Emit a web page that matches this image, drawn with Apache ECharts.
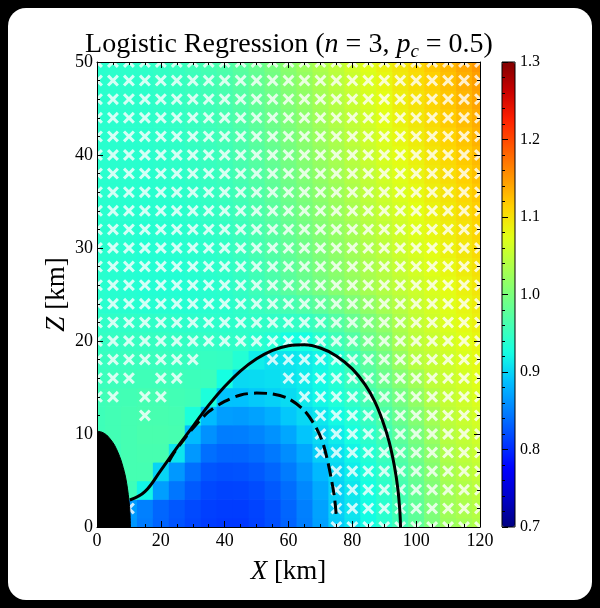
<!DOCTYPE html>
<html>
<head>
<meta charset="utf-8">
<script src="https://cdn.jsdelivr.net/npm/echarts@6/dist/echarts.min.js"></script>
<style>
  html, body { margin: 0; padding: 0; background: #000; }
  #chart { width: 600px; height: 608px; }
</style>
</head>
<body>
<div id="chart"></div>
<script>
// grid nodes of the field (km)
const X_KM = [0, 5, 10, 15, 20, 25, 30, 35, 40, 45, 50, 55, 60, 65, 70, 75, 80, 85, 90, 95, 100, 105, 110, 115, 120];
const Z_KM = [0, 2, 4, 6, 8, 10, 12, 14, 16, 18, 20, 22, 24, 26, 28, 30, 32, 34, 36, 38, 40, 42, 44, 46, 48, 50];

// field values, one row per Z (bottom row first)
const FIELD = [
  [0.864, 0.864, 0.864, 0.848, 0.834, 0.824, 0.816, 0.81, 0.808, 0.808, 0.813, 0.821, 0.833, 0.849, 0.869, 0.895, 0.908, 0.923, 0.94, 0.958, 0.979, 1.001, 1.022, 1.029, 1.037],
  [0.864, 0.864, 0.866, 0.85, 0.835, 0.826, 0.818, 0.812, 0.81, 0.81, 0.814, 0.822, 0.834, 0.85, 0.87, 0.897, 0.909, 0.924, 0.94, 0.959, 0.979, 1.002, 1.026, 1.034, 1.041],
  [0.864, 0.864, 0.955, 0.92, 0.868, 0.844, 0.828, 0.817, 0.814, 0.815, 0.819, 0.827, 0.839, 0.855, 0.875, 0.898, 0.911, 0.926, 0.943, 0.961, 0.982, 1.004, 1.028, 1.038, 1.046],
  [0.864, 0.864, 0.96, 0.96, 0.90, 0.864, 0.84, 0.825, 0.822, 0.823, 0.827, 0.835, 0.847, 0.863, 0.884, 0.902, 0.915, 0.93, 0.946, 0.965, 0.985, 1.008, 1.032, 1.043, 1.051],
  [0.864, 0.955, 0.96, 0.962, 0.962, 0.91, 0.864, 0.84, 0.834, 0.834, 0.838, 0.846, 0.858, 0.874, 0.896, 0.907, 0.92, 0.935, 0.952, 0.97, 0.991, 1.013, 1.037, 1.047, 1.055],
  [0.955, 0.958, 0.96, 0.963, 0.963, 0.962, 0.885, 0.86, 0.848, 0.849, 0.853, 0.861, 0.873, 0.891, 0.903, 0.914, 0.927, 0.942, 0.959, 0.977, 0.998, 1.02, 1.043, 1.051, 1.06],
  [0.955, 0.958, 0.96, 0.962, 0.962, 0.96, 0.93, 0.885, 0.868, 0.866, 0.87, 0.878, 0.893, 0.902, 0.911, 0.922, 0.935, 0.95, 0.967, 0.986, 1.006, 1.028, 1.047, 1.056, 1.064],
  [0.955, 0.957, 0.958, 0.96, 0.96, 0.958, 0.956, 0.93, 0.89, 0.889, 0.894, 0.898, 0.904, 0.912, 0.921, 0.932, 0.945, 0.96, 0.977, 0.995, 1.016, 1.038, 1.052, 1.06, 1.069],
  [0.952, 0.954, 0.955, 0.956, 0.956, 0.955, 0.954, 0.953, 0.925, 0.903, 0.904, 0.906, 0.909, 0.914, 0.922, 0.935, 0.952, 0.97, 0.988, 1.007, 1.027, 1.048, 1.056, 1.064, 1.073],
  [0.95, 0.951, 0.952, 0.952, 0.952, 0.951, 0.95, 0.949, 0.948, 0.935, 0.915, 0.908, 0.91, 0.913, 0.92, 0.935, 0.955, 0.975, 0.995, 1.02, 1.043, 1.052, 1.06, 1.069, 1.078],
  [0.948, 0.948, 0.949, 0.949, 0.949, 0.948, 0.947, 0.946, 0.945, 0.944, 0.94, 0.935, 0.925, 0.925, 0.94, 0.955, 0.97, 0.99, 1.005, 1.03, 1.047, 1.056, 1.064, 1.073, 1.082],
  [0.945, 0.945, 0.945, 0.945, 0.944, 0.943, 0.942, 0.942, 0.942, 0.943, 0.945, 0.945, 0.945, 0.948, 0.955, 0.97, 0.985, 1.0, 1.015, 1.035, 1.051, 1.06, 1.069, 1.078, 1.087],
  [0.94, 0.939, 0.938, 0.937, 0.937, 0.937, 0.937, 0.938, 0.94, 0.944, 0.95, 0.955, 0.96, 0.968, 0.978, 0.99, 1.003, 1.016, 1.03, 1.043, 1.055, 1.064, 1.073, 1.082, 1.091],
  [0.94, 0.938, 0.937, 0.935, 0.935, 0.935, 0.937, 0.939, 0.942, 0.947, 0.955, 0.964, 0.974, 0.985, 0.996, 1.007, 1.019, 1.03, 1.04, 1.05, 1.059, 1.068, 1.077, 1.086, 1.096],
  [0.94, 0.938, 0.937, 0.936, 0.936, 0.936, 0.938, 0.941, 0.944, 0.949, 0.957, 0.966, 0.977, 0.988, 1.0, 1.011, 1.022, 1.033, 1.043, 1.054, 1.063, 1.072, 1.081, 1.091, 1.1],
  [0.94, 0.939, 0.938, 0.936, 0.937, 0.938, 0.94, 0.942, 0.946, 0.952, 0.96, 0.969, 0.98, 0.991, 1.003, 1.014, 1.026, 1.037, 1.047, 1.058, 1.067, 1.076, 1.086, 1.095, 1.105],
  [0.94, 0.939, 0.938, 0.937, 0.938, 0.939, 0.941, 0.944, 0.948, 0.954, 0.962, 0.972, 0.983, 0.995, 1.006, 1.017, 1.029, 1.041, 1.051, 1.061, 1.071, 1.081, 1.09, 1.099, 1.109],
  [0.94, 0.939, 0.939, 0.938, 0.939, 0.94, 0.943, 0.946, 0.95, 0.956, 0.965, 0.975, 0.986, 0.998, 1.009, 1.021, 1.033, 1.044, 1.055, 1.065, 1.075, 1.085, 1.094, 1.104, 1.114],
  [0.94, 0.94, 0.939, 0.939, 0.94, 0.942, 0.944, 0.948, 0.952, 0.958, 0.967, 0.978, 0.989, 1.001, 1.012, 1.024, 1.036, 1.048, 1.058, 1.069, 1.079, 1.089, 1.098, 1.108, 1.118],
  [0.94, 0.94, 0.94, 0.939, 0.941, 0.943, 0.946, 0.949, 0.954, 0.961, 0.97, 0.98, 0.992, 1.004, 1.016, 1.028, 1.04, 1.051, 1.062, 1.073, 1.083, 1.093, 1.103, 1.113, 1.123],
  [0.94, 0.94, 0.94, 0.94, 0.942, 0.944, 0.947, 0.951, 0.956, 0.963, 0.972, 0.983, 0.995, 1.007, 1.019, 1.031, 1.043, 1.055, 1.066, 1.077, 1.087, 1.097, 1.107, 1.117, 1.127],
  [0.94, 0.94, 0.94, 0.941, 0.943, 0.945, 0.949, 0.953, 0.958, 0.965, 0.975, 0.986, 0.998, 1.01, 1.022, 1.034, 1.047, 1.059, 1.07, 1.081, 1.091, 1.101, 1.111, 1.121, 1.132],
  [0.94, 0.94, 0.941, 0.942, 0.944, 0.946, 0.95, 0.955, 0.96, 0.968, 0.977, 0.989, 1.001, 1.013, 1.026, 1.038, 1.05, 1.062, 1.074, 1.085, 1.095, 1.105, 1.116, 1.126, 1.136],
  [0.94, 0.941, 0.942, 0.942, 0.945, 0.948, 0.952, 0.956, 0.962, 0.97, 0.98, 0.991, 1.004, 1.016, 1.029, 1.041, 1.054, 1.066, 1.077, 1.089, 1.099, 1.109, 1.12, 1.13, 1.141],
  [0.94, 0.941, 0.942, 0.943, 0.946, 0.949, 0.953, 0.958, 0.964, 0.972, 0.982, 0.994, 1.007, 1.019, 1.032, 1.045, 1.057, 1.069, 1.081, 1.093, 1.103, 1.113, 1.124, 1.135, 1.145],
  [0.94, 0.941, 0.943, 0.944, 0.947, 0.95, 0.955, 0.96, 0.966, 0.974, 0.985, 0.997, 1.01, 1.023, 1.035, 1.048, 1.061, 1.073, 1.085, 1.096, 1.107, 1.118, 1.128, 1.139, 1.15]
];

// white crosses on the same nodes ('x' = marked), bottom row first
const MARKS = [
  '...............xxxxxxxxxx',
  '..x............xxxxxxxxxx',
  '...............xxxxxxxxxx',
  '...............xxxxxxxxxx',
  '..............xxxxxxxxxxx',
  '..............xxxxxxxxxxx',
  '...x..........xxxxxxxxxxx',
  'xx.xx........xxxxxxxxxxxx',
  'xxx.xx......xxxxxxxxxxxxx',
  'xxxxxxx....xxxxxxxxxxxxxx',
  'xxxxxxxxxxxxxxxxxxxxxxxxx',
  'xxxxxxxxxxxxxxxxxxxxxxxxx',
  'xxxxxxxxxxxxxxxxxxxxxxxxx',
  'xxxxxxxxxxxxxxxxxxxxxxxxx',
  'xxxxxxxxxxxxxxxxxxxxxxxxx',
  'xxxxxxxxxxxxxxxxxxxxxxxxx',
  'xxxxxxxxxxxxxxxxxxxxxxxxx',
  'xxxxxxxxxxxxxxxxxxxxxxxxx',
  'xxxxxxxxxxxxxxxxxxxxxxxxx',
  'xxxxxxxxxxxxxxxxxxxxxxxxx',
  'xxxxxxxxxxxxxxxxxxxxxxxxx',
  'xxxxxxxxxxxxxxxxxxxxxxxxx',
  'xxxxxxxxxxxxxxxxxxxxxxxxx',
  'xxxxxxxxxxxxxxxxxxxxxxxxx',
  'xxxxxxxxxxxxxxxxxxxxxxxxx',
  'xxxxxxxxxxxxxxxxxxxxxxxxx'
];

// black bump at the origin
const BUMP_X = [0, 1.5, 3, 4.4, 5.5, 6.6, 7.5, 8.2, 8.8, 9.3, 9.8, 10.2, 10.4, 10.5];
const BUMP_Z = [10.3, 10.2, 9.9, 9.35, 8.8, 8, 7.2, 6.4, 5.6, 4.7, 3.5, 2.2, 1, 0];

// solid boundary
const SOLID_X = [10.3, 15, 20, 25, 30, 35, 40, 45, 50, 55, 60, 65, 70, 75, 80, 84, 87, 89.5, 91.5, 93.2, 94.3, 94.9, 95.1];
const SOLID_Z = [2.9, 3.8, 6.1, 8.5, 10.8, 13.1, 15.1, 16.8, 18.1, 19.0, 19.5, 19.6, 19.25, 18.4, 17.0, 15.3, 13.5, 11.4, 9.2, 6.5, 4.0, 1.6, 0];

// dashed boundary
const DASH_X = [22.5, 24, 27, 30, 35, 40, 45, 50, 55, 60, 65, 68.8, 70.8, 72.2, 73.4, 74.4, 75];
const DASH_Z = [7.0, 7.9, 9.3, 10.6, 12.4, 13.5, 14.2, 14.4, 14.3, 13.8, 12.5, 10.6, 9.0, 7.2, 5.2, 3.2, 1.1];

const CB_MIN = 0.7;
const CB_MAX = 1.3;
const JET = ['#000080', '#0000c8', '#0000ff', '#0040ff', '#0080ff', '#00bfff', '#15ffe2', '#48ffaf',
             '#7bff7b', '#afff48', '#e2ff15', '#ffd200', '#ff9700', '#ff5c00', '#ff2100', '#c80000', '#800000'];

const SERIF = '"Liberation Serif", "DejaVu Serif", serif';

const cells = [];
FIELD.forEach((row, j) => row.forEach((v, i) => cells.push([X_KM[i], Z_KM[j], v])));

const marks = [];
MARKS.forEach((row, j) => row.split('').forEach((c, i) => {
    if (c === 'x') marks.push([X_KM[i], Z_KM[j]]);
}));

const pairs = (xs, zs) => xs.map((x, i) => [x, zs[i]]);

const halfW = (X_KM[1] - X_KM[0]) / 2;
const halfH = (Z_KM[1] - Z_KM[0]) / 2;

// filled "x" glyph
const crossPath = 'path://M1.8,0L5,3.2L8.2,0L10,1.8L6.8,5L10,8.2L8.2,10L5,6.8L1.8,10L0,8.2L3.2,5L0,1.8Z';

const chart = echarts.init(document.getElementById('chart'), null, { renderer: 'canvas' });

const mainAxisCommon = {
    type: 'value',
    z: 10,
    splitLine: { show: false },
    axisLine: { show: true, onZero: false, lineStyle: { color: '#000', width: 1 } },
    axisTick: { show: true, inside: true, length: 6, lineStyle: { color: '#000', width: 1 } },
    minorTick: { show: true, length: 3, lineStyle: { color: '#000', width: 1 } },
    minorSplitLine: { show: false }
};

const option = {
    backgroundColor: 'transparent',
    animation: false,
    graphic: [
        {
            type: 'rect', z: -10, silent: true,
            shape: { x: 8, y: 8, width: 584, height: 592, r: 18 },
            style: { fill: '#fff' }
        },
        {
            type: 'text', x: 289, y: 45, z: 20, silent: true,
            style: {
                text: '{t|Logistic Regression (}{i|n}{t| = 3, }{i|p}{s|c}{t| = 0.5)}',
                align: 'center', verticalAlign: 'middle',
                rich: {
                    t: { fontFamily: SERIF, fontSize: 28, fill: '#000', lineHeight: 32, verticalAlign: 'middle' },
                    i: { fontFamily: SERIF, fontSize: 28, fontStyle: 'italic', fill: '#000', lineHeight: 32, verticalAlign: 'middle' },
                    s: { fontFamily: SERIF, fontSize: 19, fontStyle: 'italic', fill: '#000', lineHeight: 18, verticalAlign: 'bottom' }
                }
            }
        }
    ],
    grid: [
        { left: 97, top: 62, width: 383, height: 465, show: false },
        { left: 502, top: 62, width: 13, height: 465, show: true, z: 10,
          backgroundColor: 'transparent', borderColor: '#000', borderWidth: 1 }
    ],
    visualMap: {
        type: 'continuous',
        seriesIndex: 0,
        dimension: 2,
        min: CB_MIN,
        max: CB_MAX,
        calculable: false,
        hoverLink: false,
        left: 502,
        top: 62,
        padding: 0,
        itemWidth: 13,
        itemHeight: 465,
        inRange: { color: JET }
    },
    xAxis: [
        Object.assign({}, mainAxisCommon, {
            gridIndex: 0, position: 'bottom', min: 0, max: 120, interval: 20,
            minorTick: Object.assign({}, mainAxisCommon.minorTick, { splitNumber: 4 }),
            axisLabel: { color: '#000', fontFamily: SERIF, fontSize: 18, margin: 5 },
            name: '{i|X} [km]',
            nameLocation: 'middle',
            nameGap: 31,
            nameTextStyle: {
                fontFamily: SERIF, fontSize: 27, color: '#000',
                rich: { i: { fontFamily: SERIF, fontSize: 27, fontStyle: 'italic', color: '#000' } }
            }
        }),
        Object.assign({}, mainAxisCommon, {
            gridIndex: 0, position: 'top', min: 0, max: 120, interval: 20,
            minorTick: Object.assign({}, mainAxisCommon.minorTick, { splitNumber: 4 }),
            axisLabel: { show: false }
        }),
        { gridIndex: 1, type: 'value', min: 0, max: 1, show: false }
    ],
    yAxis: [
        Object.assign({}, mainAxisCommon, {
            gridIndex: 0, position: 'left', min: 0, max: 50, interval: 10,
            minorTick: Object.assign({}, mainAxisCommon.minorTick, { splitNumber: 5 }),
            axisLabel: { color: '#000', fontFamily: SERIF, fontSize: 18, margin: 4 },
            name: '{i|Z} [km]',
            nameLocation: 'middle',
            nameRotate: 90,
            nameGap: 27,
            nameMoveOverlap: false,
            nameTextStyle: {
                fontFamily: SERIF, fontSize: 27, color: '#000',
                rich: { i: { fontFamily: SERIF, fontSize: 27, fontStyle: 'italic', color: '#000' } }
            }
        }),
        Object.assign({}, mainAxisCommon, {
            gridIndex: 0, position: 'right', min: 0, max: 50, interval: 10,
            minorTick: Object.assign({}, mainAxisCommon.minorTick, { splitNumber: 5 }),
            axisLabel: { show: false }
        }),
        {
            gridIndex: 1, type: 'value', position: 'right', min: CB_MIN, max: CB_MAX, interval: 0.1, z: 10,
            splitLine: { show: false },
            axisLine: { show: false },
            axisTick: { show: true, inside: false, length: 6, lineStyle: { color: '#000', width: 1 } },
            minorTick: { show: true, splitNumber: 5, length: 3, lineStyle: { color: '#000', width: 1 } },
            axisLabel: {
                color: '#000', fontFamily: SERIF, fontSize: 16, margin: 5,
                formatter: v => v.toFixed(1)
            }
        }
    ],
    series: [
        {
            type: 'custom',
            name: 'field',
            xAxisIndex: 0, yAxisIndex: 0,
            data: cells,
            encode: { x: 0, y: 1 },
            clip: true,
            silent: true,
            renderItem: (params, api) => {
                const x = api.value(0);
                const z = api.value(1);
                const a = api.coord([x - halfW, z + halfH]);
                const b = api.coord([x + halfW, z - halfH]);
                return {
                    type: 'rect',
                    shape: { x: a[0], y: a[1], width: b[0] - a[0] + 0.7, height: b[1] - a[1] + 0.7 },
                    style: { fill: api.visual('color') }
                };
            }
        },
        {
            type: 'line',
            name: 'bump',
            xAxisIndex: 0, yAxisIndex: 0,
            data: pairs(BUMP_X, BUMP_Z),
            smooth: 0.3,
            symbol: 'none',
            clip: true,
            silent: true,
            lineStyle: { color: '#000', width: 1 },
            areaStyle: { color: '#000', opacity: 1 }
        },
        {
            type: 'line',
            name: 'solid',
            xAxisIndex: 0, yAxisIndex: 0,
            data: pairs(SOLID_X, SOLID_Z),
            smooth: 0.4,
            symbol: 'none',
            clip: true,
            silent: true,
            lineStyle: { color: '#000', width: 3 }
        },
        {
            type: 'line',
            name: 'dashed',
            xAxisIndex: 0, yAxisIndex: 0,
            data: pairs(DASH_X, DASH_Z),
            smooth: 0.3,
            symbol: 'none',
            clip: true,
            silent: true,
            lineStyle: { color: '#000', width: 3, type: [13, 6] }
        },
        {
            type: 'scatter',
            name: 'marks',
            xAxisIndex: 0, yAxisIndex: 0,
            data: marks,
            symbol: crossPath,
            symbolSize: 12,
            clip: true,
            silent: true,
            itemStyle: { color: '#fff' }
        }
    ]
};

chart.setOption(option);
</script>
</body>
</html>
